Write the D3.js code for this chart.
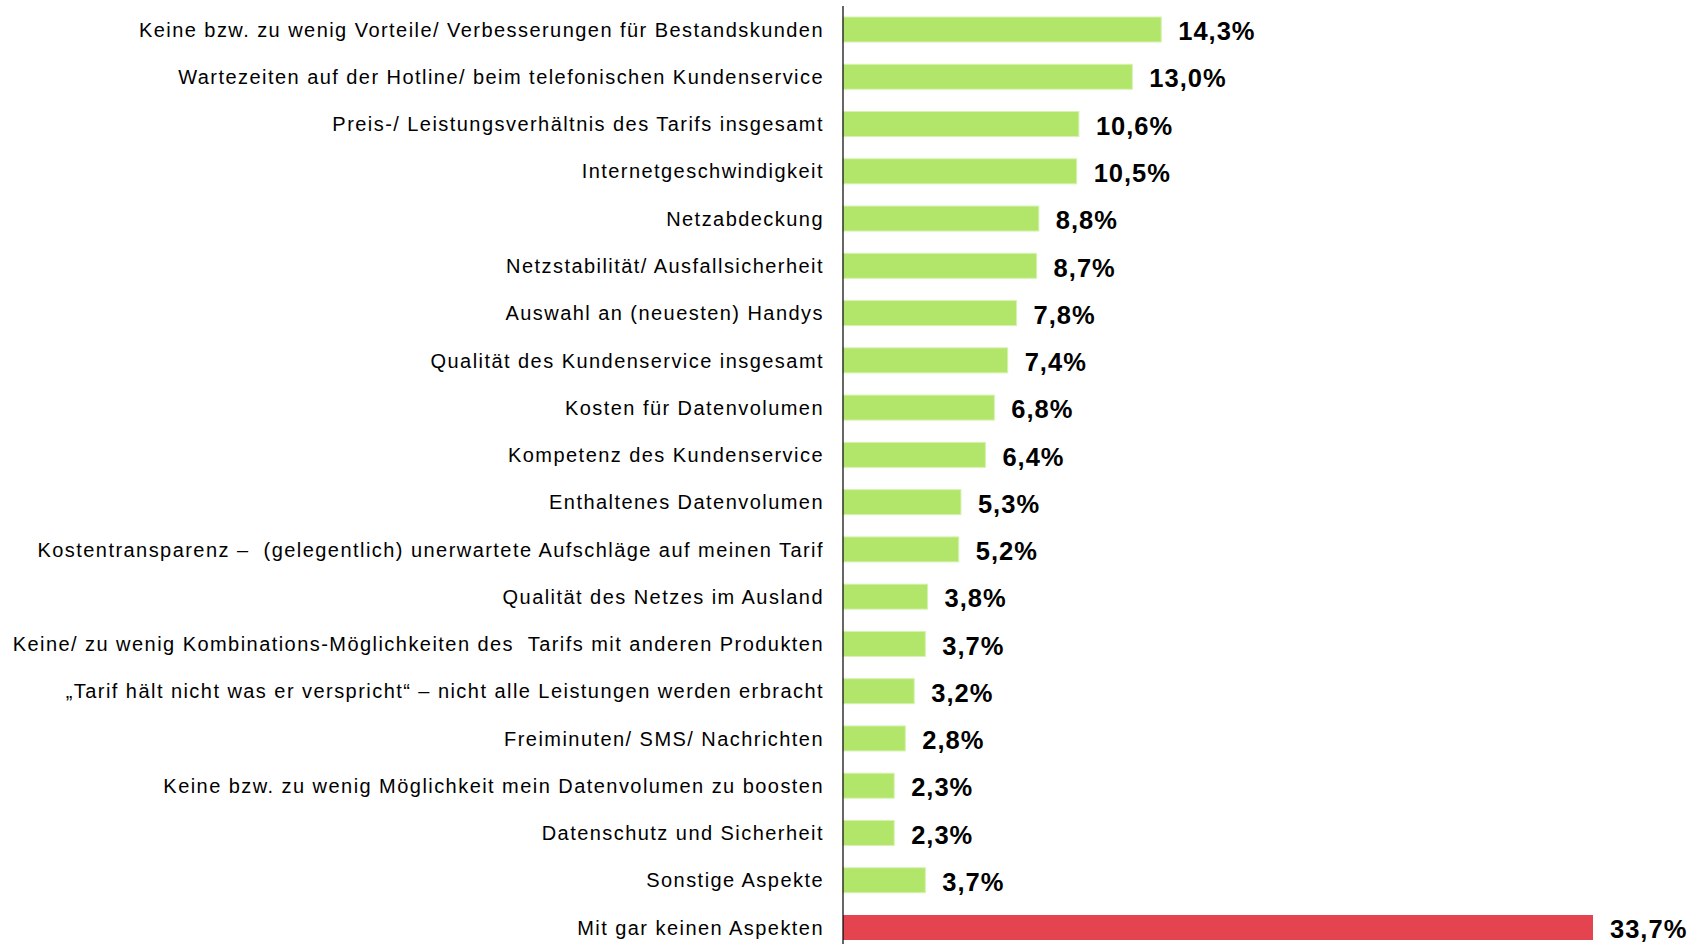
<!DOCTYPE html>
<html>
<head>
<meta charset="utf-8">
<script src="https://cdn.jsdelivr.net/npm/d3@7"></script>
<style>
  body { margin: 0; background: #fff; }
  svg { display: block; }
</style>
</head>
<body>
<div id="chart"></div>
<script>
// Aspekte, mit denen Kunden unzufrieden sind (Anteile in %)
var categories = [
  'Keine bzw. zu wenig Vorteile/ Verbesserungen für Bestandskunden',
  'Wartezeiten auf der Hotline/ beim telefonischen Kundenservice',
  'Preis-/ Leistungsverhältnis des Tarifs insgesamt',
  'Internetgeschwindigkeit',
  'Netzabdeckung',
  'Netzstabilität/ Ausfallsicherheit',
  'Auswahl an (neuesten) Handys',
  'Qualität des Kundenservice insgesamt',
  'Kosten für Datenvolumen',
  'Kompetenz des Kundenservice',
  'Enthaltenes Datenvolumen',
  'Kostentransparenz –  (gelegentlich) unerwartete Aufschläge auf meinen Tarif',
  'Qualität des Netzes im Ausland',
  'Keine/ zu wenig Kombinations-Möglichkeiten des  Tarifs mit anderen Produkten',
  '„Tarif hält nicht was er verspricht“ – nicht alle Leistungen werden erbracht',
  'Freiminuten/ SMS/ Nachrichten',
  'Keine bzw. zu wenig Möglichkeit mein Datenvolumen zu boosten',
  'Datenschutz und Sicherheit',
  'Sonstige Aspekte',
  'Mit gar keinen Aspekten'
];
var values = [14.3, 13.0, 10.6, 10.5, 8.8, 8.7, 7.8, 7.4, 6.8, 6.4,
              5.3, 5.2, 3.8, 3.7, 3.2, 2.8, 2.3, 2.3, 3.7, 33.7];
var highlight = 'Mit gar keinen Aspekten';

var width = 1701, height = 944;
var svg = d3.select('#chart').append('svg')
  .attr('width', width)
  .attr('height', height);

var data = categories.map(function(c, i) { return {name: c, value: values[i]}; });

var y = d3.scaleBand().domain(categories).range([5.85, 951.15]).paddingInner(0.471).paddingOuter(0.236);
var x = d3.scaleLinear().domain([0, 33.7]).range([843, 1593]);

var fmt = function(v) { return d3.format('.1f')(v).replace('.', ',') + '%'; };

// bars
svg.append('g').selectAll('rect')
  .data(data)
  .enter()
  .append('rect')
  .attr('x', x(0))
  .attr('y', function(d) { return y(d.name); })
  .attr('width', function(d) { return x(d.value) - x(0); })
  .attr('height', y.bandwidth())
  .attr('fill', function(d) { return d.name === highlight ? '#e44350' : '#b2e66a'; })
  .attr('stroke', function(d) { return d.name === highlight ? 'none' : '#d6f2b0'; })
  .attr('stroke-width', 1);

// value labels
svg.append('g').selectAll('text')
  .data(data)
  .enter()
  .append('text')
  .attr('x', function(d) { return x(d.value) + 17; })
  .attr('y', function(d) { return y(d.name) + y.bandwidth() / 2; })
  .attr('dy', '0.42em')
  .style('font-family', 'Liberation Sans, Arial, sans-serif')
  .style('font-weight', 'bold')
  .style('font-size', '25.5px')
  .style('letter-spacing', '1px')
  .attr('fill', '#000')
  .text(function(d) { return fmt(d.value); });

// category axis
var yAxis = d3.axisLeft(y).tickSize(0).tickPadding(19);
var ax = svg.append('g')
  .attr('transform', 'translate(' + x(0) + ',0)')
  .call(yAxis);
ax.select('.domain').remove();
ax.selectAll('text')
  .attr('dy', '0.36em')
  .style('font-family', 'Liberation Sans, Arial, sans-serif')
  .style('font-size', '20px')
  .style('letter-spacing', '1.45px')
  .style('white-space', 'pre')
  .attr('fill', '#000');

svg.append('line')
  .attr('x1', x(0)).attr('x2', x(0))
  .attr('y1', 6).attr('y2', height)
  .attr('stroke', '#000')
  .attr('stroke-width', 1.2);
</script>
</body>
</html>
